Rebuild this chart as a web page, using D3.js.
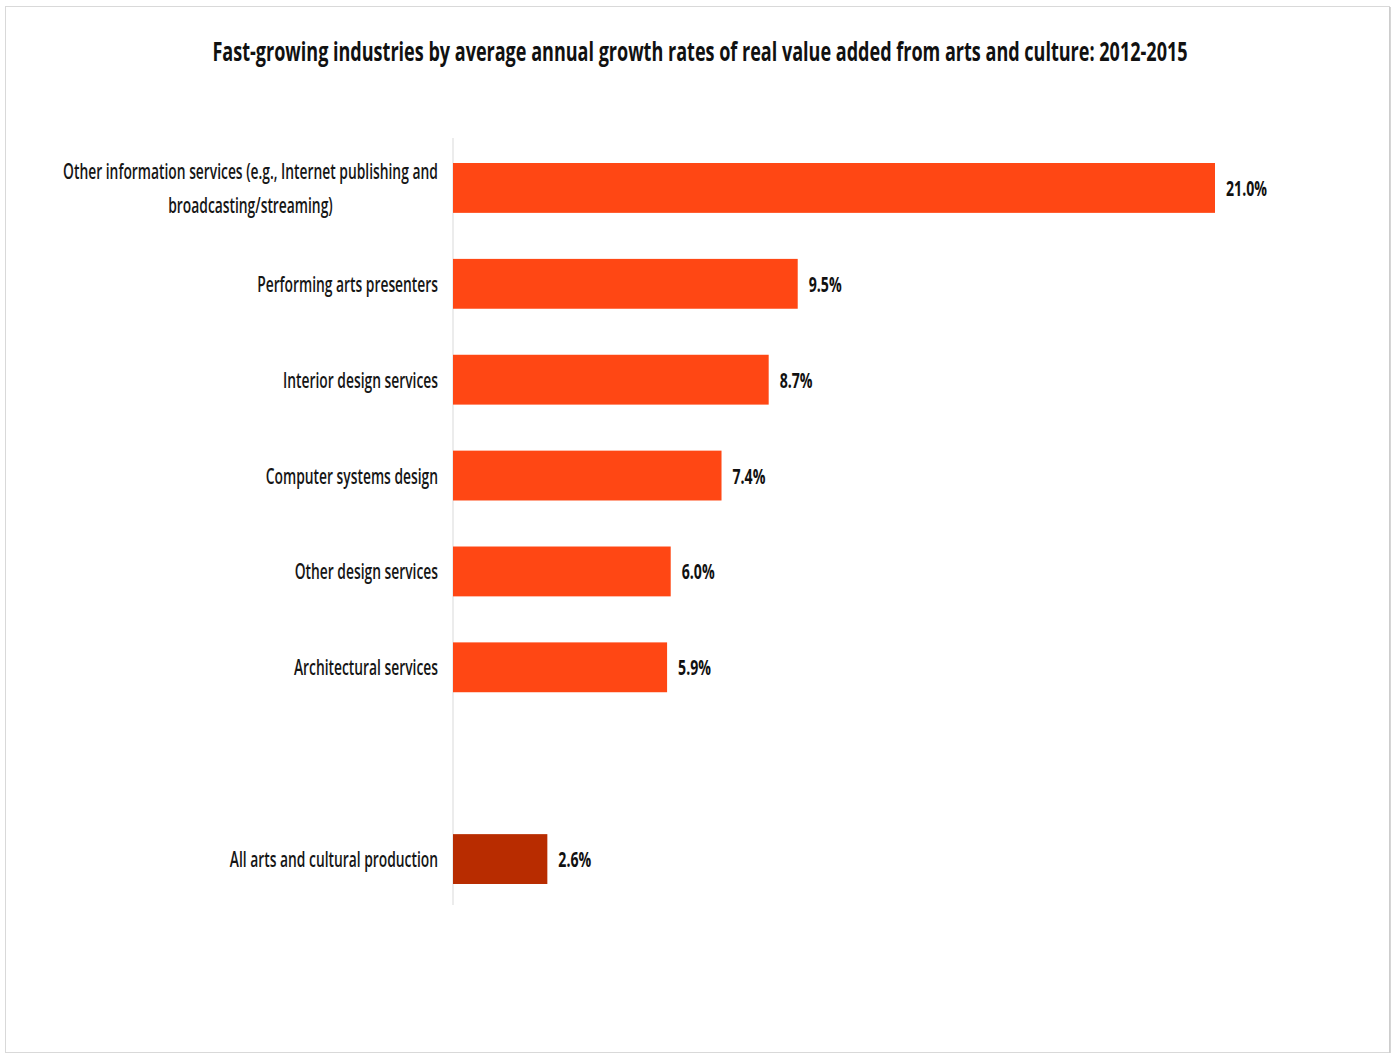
<!DOCTYPE html>
<html><head><meta charset="utf-8">
<script src="https://cdn.jsdelivr.net/npm/d3@7"></script>
<style>body{margin:0;background:#fff}svg{display:block}</style>
</head><body>
<svg id="chart" width="1393" height="1055"></svg>
<script>
const title = "Fast-growing industries by average annual growth rates of real value added from arts and culture: 2012-2015";
const categories = [
  "Other information services (e.g., Internet publishing and broadcasting/streaming)",
  "Performing arts presenters",
  "Interior design services",
  "Computer systems design",
  "Other design services",
  "Architectural services",
  "",
  "All arts and cultural production"
];
const labelLines = [
  ["Other information services (e.g., Internet publishing and", "broadcasting/streaming)"],
  ["Performing arts presenters"],
  ["Interior design services"],
  ["Computer systems design"],
  ["Other design services"],
  ["Architectural services"],
  [],
  ["All arts and cultural production"]
];
const values = [21.0, 9.5, 8.7, 7.4, 6.0, 5.9, null, 2.6];
const valueLabels = ["21.0%", "9.5%", "8.7%", "7.4%", "6.0%", "5.9%", "", "2.6%"];
const isTotal = [false, false, false, false, false, false, false, true];

const svg = d3.select("#chart");
const FONT = "'Open Sans', 'Noto Sans', sans-serif";

// frame
svg.append("rect").attr("x", 5.5).attr("y", 6.5).attr("width", 1384).attr("height", 1046)
  .attr("fill", "#fff").attr("stroke", "#d9d9d9").attr("stroke-width", 1);
svg.append("line").attr("x1", 1390).attr("x2", 1390).attr("y1", 7).attr("y2", 1053)
  .attr("stroke", "#c8c8c8").attr("stroke-width", 1.5);

const x = d3.scaleLinear().domain([0, d3.max(values)]).range([453, 1215]);
const y = d3.scaleBand().domain(categories).range([140, 907]).paddingInner(0.48).paddingOuter(0.24);

// measure helper
function measure(parent, txt) {
  const p = parent.append("text").text(txt);
  const w = p.node().getComputedTextLength();
  p.remove();
  return w;
}

// title
const tG = svg.append("g").attr("font-family", FONT).attr("font-size", 26).attr("font-weight", 700).attr("fill", "#111");
const kTitle = 976 / measure(tG, title);
tG.append("text").attr("text-anchor", "middle")
  .attr("transform", `translate(700,61) scale(${kTitle},1)`)
  .text(title);

// axis line
svg.append("line").attr("x1", x(0)).attr("x2", x(0)).attr("y1", 138).attr("y2", 905)
  .attr("stroke", "#d9d9d9").attr("stroke-width", 1);

const rows = categories.map((c, i) => ({c, i, v: values[i], lines: labelLines[i], lab: valueLabels[i], total: isTotal[i]}));

// bars
svg.append("g").selectAll("rect").data(rows.filter(d => d.v != null)).join("rect")
  .attr("x", x(0)).attr("y", d => y(d.c))
  .attr("width", d => x(d.v) - x(0)).attr("height", y.bandwidth())
  .attr("fill", d => d.total ? "#b82c00" : "#ff4714");

// category labels
const lblG = svg.append("g").attr("font-family", FONT).attr("font-size", 22).attr("font-weight", 600).attr("fill", "#161616");
const kLbl = 181 / measure(lblG, "Performing arts presenters");
rows.forEach(d => {
  const n = d.lines.length;
  const cy = y(d.c) + y.bandwidth() / 2;
  const lh = 34;
  if (n === 1) {
    lblG.append("text").attr("text-anchor", "end")
      .attr("transform", `translate(438,${cy + 8}) scale(${kLbl},1)`).text(d.lines[0]);
  } else if (n > 1) {
    const w0 = measure(lblG, d.lines[0]) * kLbl;
    const cx = 438 - w0 / 2;
    d.lines.forEach((ln, j) => {
      lblG.append("text").attr("text-anchor", "middle")
        .attr("transform", `translate(${cx},${cy + (j - (n - 1) / 2) * lh + 8}) scale(${kLbl},1)`).text(ln);
    });
  }
});

// value labels
const valG = svg.append("g").attr("font-family", FONT).attr("font-size", 22).attr("font-weight", 700).attr("fill", "#111");
const kVal = 41 / measure(valG, "21.0%");
valG.selectAll("text").data(rows.filter(d => d.v != null)).join("text")
  .attr("transform", d => `translate(${x(d.v) + 11},${y(d.c) + y.bandwidth() / 2 + 8}) scale(${kVal},1)`)
  .text(d => d.lab);
</script>
</body></html>
